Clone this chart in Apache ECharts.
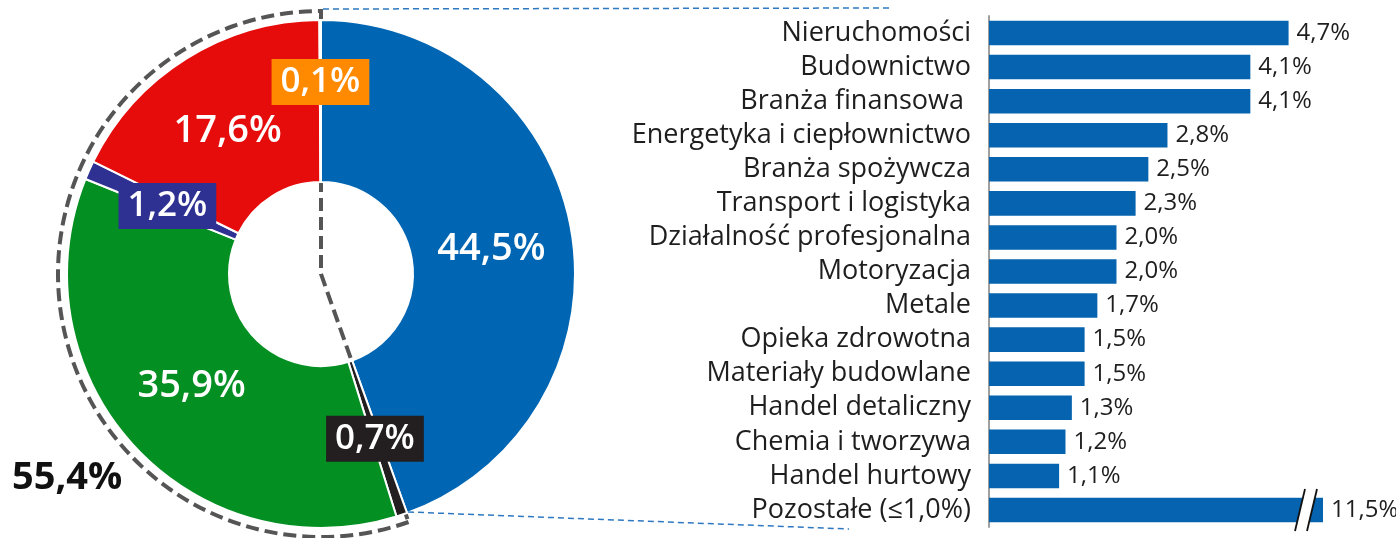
<!DOCTYPE html>
<html>
<head>
<meta charset="utf-8">
<script src="https://cdn.jsdelivr.net/npm/echarts@6/dist/echarts.min.js"></script>
<style>
  html, body { margin: 0; padding: 0; background: #fff; }
  #chart { width: 1396px; height: 538px; }
</style>
</head>
<body>
<div id="chart"></div>
<script>
// Donut: structure of the portfolio (clockwise from 12 o'clock)
const sliceValues = [44.5, 0.7, 35.9, 1.2, 17.6, 0.1];
const sliceColors = ['#0066B3', '#231F20', '#038F22', '#2E3192', '#E60C0C', '#FF8A00'];
// boxed labels for the thin slices
const sliceBoxed = [false, true, false, true, false, true];
// share of everything outside the blue slice (dashed outline)
const groupShare = 55.4;

// Bars: breakdown by sector
const sectorNames = [
  'Nieruchomości', 'Budownictwo', 'Branża finansowa ', 'Energetyka i ciepłownictwo',
  'Branża spożywcza', 'Transport i logistyka', 'Działalność profesjonalna', 'Motoryzacja',
  'Metale', 'Opieka zdrowotna', 'Materiały budowlane', 'Handel detaliczny',
  'Chemia i tworzywa', 'Handel hurtowy', 'Pozostałe (≤1,0%)'
];
const sectorValues = [4.7, 4.1, 4.1, 2.8, 2.5, 2.3, 2.0, 2.0, 1.7, 1.5, 1.5, 1.3, 1.2, 1.1, 11.5];

const FONT = '"Open Sans", "DejaVu Sans", sans-serif';
const fmt = v => v.toFixed(1).replace('.', ',') + '%';

const pieCenter = [321, 274];
const pieRadius = [92, 254];
const outlineRadius = 263;

// label nudges for the donut (dx, dy) per slice
const labelNudge = [[-1.5, 2.5], [-1, -1], [0, -3.5], [3.5, 2], [0, 3], [0, -8]];

const chart = echarts.init(document.getElementById('chart'));

const option = {
  animation: false,
  grid: { left: 989, right: 73, top: 16, bottom: 11 },
  xAxis: {
    type: 'value', min: 0, max: 5.24,
    show: false
  },
  yAxis: {
    type: 'category',
    data: sectorNames,
    inverse: true,
    axisLine: { show: true, lineStyle: { color: '#A0A0A0', width: 2 } },
    axisTick: { show: false },
    axisLabel: {
      interval: 0, margin: 18, fontFamily: FONT, fontSize: 27, color: '#1E1E1E'
    }
  },
  series: [
    {
      // dashed outline around the non-blue part of the donut
      type: 'pie',
      silent: true,
      z: 1,
      center: pieCenter,
      radius: [0, outlineRadius],
      label: { show: false },
      labelLine: { show: false },
      data: [
        { value: 100 - groupShare, itemStyle: { color: 'rgba(0,0,0,0)', borderWidth: 0 } },
        { value: groupShare, itemStyle: {
            color: 'rgba(0,0,0,0)', borderColor: '#555555', borderWidth: 4,
            borderType: [13, 6], borderJoin: 'miter'
        } }
      ]
    },
    {
      type: 'pie',
      silent: true,
      z: 2,
      center: pieCenter,
      radius: pieRadius,
      startAngle: 90,
      itemStyle: { borderColor: '#fff', borderWidth: 2 },
      label: {
        show: true, position: 'inside',
        fontFamily: FONT, fontSize: 38, fontWeight: 600, color: '#fff',
        formatter: p => fmt(p.value)
      },
      labelLine: { show: false },
      labelLayout: p => ({ dx: labelNudge[p.dataIndex][0], dy: labelNudge[p.dataIndex][1] }),
      data: sliceValues.map((v, i) => ({
        value: v,
        itemStyle: { color: sliceColors[i] },
        label: sliceBoxed[i] ? {
          backgroundColor: sliceColors[i], padding: [4, 9, 2, 9], fontSize: 35, lineHeight: 40
        } : {}
      }))
    },
    {
      type: 'bar',
      data: sectorValues,
      barCategoryGap: '28%',
      itemStyle: { color: '#0563AF' },
      label: {
        show: true, position: 'right', distance: 8,
        fontFamily: FONT, fontSize: 24, color: '#1E1E1E',
        formatter: p => fmt(p.value)
      }
    }
  ]
};
chart.setOption(option);

// decorations derived from the layout
function polar(r, frac) {
  const a = frac * 2 * Math.PI;
  return [pieCenter[0] + r * Math.sin(a), pieCenter[1] - r * Math.cos(a)];
}
const blueFrac = sliceValues[0] / sliceValues.reduce((a, b) => a + b, 0);
const topStart = polar(pieRadius[1] + 6, 0);
const botStart = polar(pieRadius[1], blueFrac);
const gridLeft = option.grid.left;

const lastIdx = sectorValues.length - 1;
const barEnd = chart.convertToPixel({ gridIndex: 0 }, [option.xAxis.max, lastIdx]);
const cx = barEnd[0] - 17, cy = barEnd[1];
const h = 21, slant = 5, gap = 6;

chart.setOption({
  graphic: [
    {
      type: 'line', silent: true, z: 100,
      shape: { x1: topStart[0] + 2, y1: topStart[1] - 5, x2: gridLeft - 100, y2: 8 },
      style: { stroke: '#2E78C2', lineWidth: 1.5, lineDash: [6, 4] }
    },
    {
      type: 'line', silent: true, z: 100,
      shape: { x1: botStart[0] + 1, y1: botStart[1] - 1, x2: gridLeft - 140, y2: 529 },
      style: { stroke: '#2E78C2', lineWidth: 1.5, lineDash: [6, 4] }
    },
    {
      type: 'text', silent: true, left: 12, top: 459, z: 100,
      style: { text: fmt(groupShare), fontFamily: FONT, fontSize: 38, fontWeight: 700, fill: '#111' }
    },
    {
      // axis break on the last bar
      type: 'polygon', silent: true, z: 100,
      shape: { points: [
        [cx - gap - slant, cy + h], [cx - gap + slant, cy - h],
        [cx + gap + slant, cy - h], [cx + gap - slant, cy + h]
      ] },
      style: { fill: '#fff' }
    },
    {
      type: 'line', silent: true, z: 101,
      shape: { x1: cx - gap - slant, y1: cy + h, x2: cx - gap + slant, y2: cy - h },
      style: { stroke: '#111', lineWidth: 1.8 }
    },
    {
      type: 'line', silent: true, z: 101,
      shape: { x1: cx + gap - slant, y1: cy + h, x2: cx + gap + slant, y2: cy - h },
      style: { stroke: '#111', lineWidth: 1.8 }
    }
  ]
});
</script>
</body>
</html>
